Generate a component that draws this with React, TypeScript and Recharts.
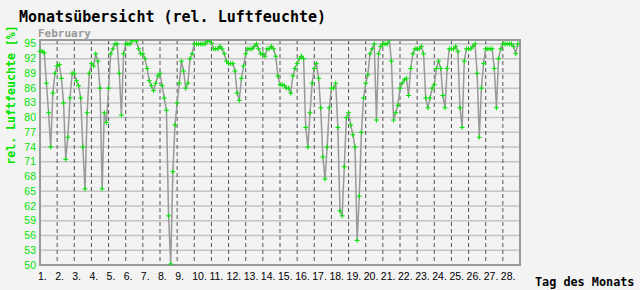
import React from 'react';
import {
  LineChart,
  Line,
  XAxis,
  YAxis,
  CartesianGrid,
  ReferenceArea
} from 'recharts';

// relative humidity, one reading every 3 hours (0h, 3h, ... 21h)
const week1 = [
  93.5, 93.5, 93.2, 87, 81, 74, 85, 89,
  90.5, 90.8, 88, 83, 71.5, 76, 84, 89,
  89, 87.5, 86.5, 84, 74, 65.5, 81, 89,
  91, 90.5, 93, 91.5, 86, 65.5, 81, 79,
  86, 93, 94, 95, 95, 89, 80.5, 93,
  95, 95, 95, 95.7, 95.8, 95.6, 94, 93,
  93, 92, 90, 87.5, 86.5, 85.5, 87, 88.5
];
const week2 = [
  89, 86.5, 84, 81.5, 60, 50.2, 69, 78.5,
  83, 87, 91.5, 89.5, 86, 87, 92, 93,
  95, 95, 95, 95, 95, 95, 95.5, 95.8,
  95.2, 94, 94, 94, 94.5, 94, 93, 91.5,
  91, 91, 91, 89.5, 85, 83.5, 88, 90.5,
  93, 94, 94, 94, 94.5, 95, 94, 93,
  93, 92.5, 94, 94, 94.5, 94, 92.5, 88.5
];
const week3 = [
  86.7, 86.7, 86.5, 86, 86, 85, 88.5, 90,
  91, 92, 92.5, 92, 78, 74, 81, 87,
  90, 91, 88, 82, 72, 67.5, 74, 82,
  86, 86, 87, 78, 61, 60, 70, 80,
  81, 78.5, 76.5, 74, 55, 64, 77, 84,
  87, 88.7, 93, 94, 95, 79.5, 93, 94.5,
  95, 95, 95, 95.8, 91.5, 79.5, 81, 82.5
];
const week4 = [
  86, 87, 87.7, 88, 84.5, 90, 93, 94,
  94, 94, 94.5, 93, 84, 82, 84, 86,
  86.7, 90, 91.5, 90, 84.5, 82, 90, 94,
  94, 94, 94.5, 93.5, 82, 78, 91.5, 94,
  94, 94, 94.5, 95, 89, 76, 86, 91,
  94, 94, 94, 94, 90, 82, 92, 94,
  95, 95, 95, 95, 95, 94.5, 93, 95
];

const dayTicks = Array.from({ length: 28 }, (_, i) => i);
const humidityTicks = [50, 53, 56, 59, 62, 65, 68, 71, 74, 77, 80, 83, 86, 89, 92, 95];

const readings = [...week1, ...week2, ...week3, ...week4];
const data = readings.map((v, i) => ({ t: i / 8, v }));

const GREEN = '#00e400';

const PlusDot = (props: any) => {
  const { cx, cy, index } = props;
  if (cx == null || cy == null) return <g key={`d-${index}`} />;
  return (
    <path
      key={`d-${index}`}
      d={`M${cx - 2.5},${cy}H${cx + 2.5}M${cx},${cy - 2.5}V${cy + 2.5}`}
      stroke={GREEN}
      strokeWidth={1}
      fill="none"
    />
  );
};

const DayTick = (props: any) => {
  const { x, payload } = props;
  return (
    <text x={x - 2} y={280} textAnchor="start" fontSize={10.5} fontFamily="Liberation Sans" fill="#000">
      {`${payload.value + 1}.`}
    </text>
  );
};

const HumTick = (props: any) => {
  const { y, payload } = props;
  return (
    <text x={36} y={y + 3.5} textAnchor="end" fontSize={10.5} fontFamily="Liberation Sans" fill={GREEN}>
      {payload.value}
    </text>
  );
};

export default function App() {
  return (
    <div style={{ position: 'absolute', left: 0, top: 0, width: 640, height: 290, background: '#f3f3f3' }}>
      <LineChart width={640} height={290} data={data} margin={{ top: 40, right: 120, bottom: 0, left: 0 }}>
        <CartesianGrid horizontal={true} vertical={false} stroke="#c4c4c4" strokeWidth={1.5} />
        <CartesianGrid horizontal={false} vertical={true} stroke="#555" strokeDasharray="4 3" />
        <XAxis
          type="number"
          dataKey="t"
          domain={[0, 28]}
          ticks={dayTicks}
          interval={0}
          height={25}
          axisLine={false}
          tickLine={false}
          tick={<DayTick />}
        />
        <YAxis
          type="number"
          domain={[50, 95.8]}
          ticks={humidityTicks}
          interval={0}
          allowDataOverflow
          width={40}
          axisLine={false}
          tickLine={false}
          tick={<HumTick />}
        />
        <ReferenceArea x1={0} x2={28} y1={50} y2={95.8} fill="none" stroke="#999" strokeWidth={2} ifOverflow="visible" />
        <Line
          type="linear"
          dataKey="v"
          stroke="#999"
          strokeWidth={1.5}
          dot={PlusDot}
          activeDot={false}
          isAnimationActive={false}
        />
      </LineChart>
      <svg width={640} height={290} style={{ position: 'absolute', left: 0, top: 0, pointerEvents: 'none' }}>
        <text x={19} y={22} fontSize={15} fontWeight="bold" fontFamily="DejaVu Sans Mono" fill="#000">
          Monatsübersicht (rel. Luftfeuchte)
        </text>
        <text x={38} y={37} fontSize={11} fontWeight="bold" fontFamily="DejaVu Sans Mono" fill="#999">
          February
        </text>
        <text
          x={0}
          y={0}
          transform="translate(15,95) rotate(-90)"
          textAnchor="middle"
          fontSize={11.6}
          fontWeight="bold"
          fontFamily="DejaVu Sans Mono"
          fill={GREEN}
        >
          rel. Luftfeuchte [%]
        </text>
        <text x={535} y={286} fontSize={11.8} fontWeight="bold" fontFamily="DejaVu Sans Mono" fill="#000">
          Tag des Monats
        </text>
      </svg>
    </div>
  );
}
